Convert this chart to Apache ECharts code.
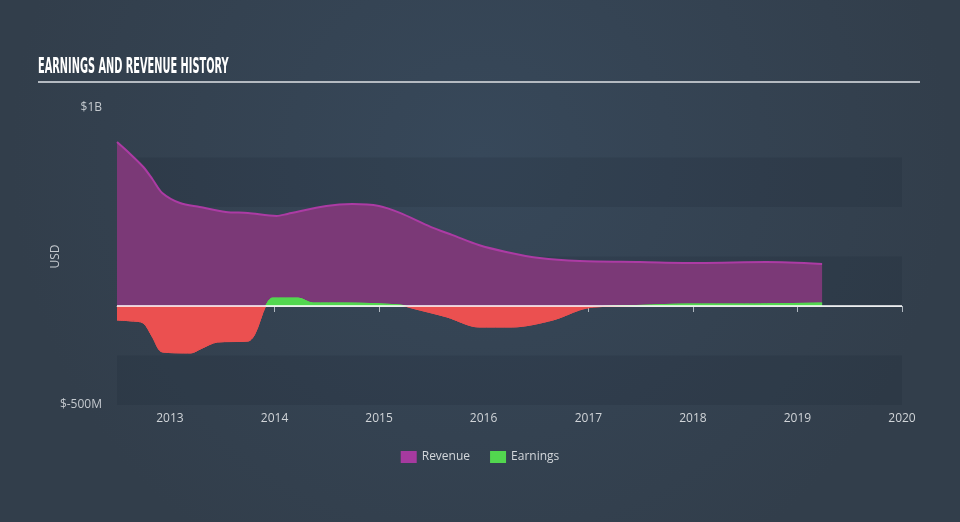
<!DOCTYPE html>
<html>
<head>
<meta charset="utf-8">
<script src="https://cdn.jsdelivr.net/npm/echarts@6/dist/echarts.min.js"></script>
<style>
html,body{margin:0;padding:0;width:960px;height:522px;overflow:hidden;background:#344454;}
#chart{width:960px;height:522px;}
</style>
</head>
<body>
<div id="chart"></div>
<script>
// Values in millions of USD
const revenueDates = ['2012-06-30','2012-08-15','2012-09-30','2012-11-01','2012-12-05','2013-02-05','2013-04-15','2013-07-15','2013-09-30','2014-01-08','2014-02-15','2014-07-01','2014-09-30','2015-01-01','2015-03-15','2015-06-30','2015-09-15','2015-12-15','2016-03-20','2016-07-15','2016-12-01','2017-06-30','2018-01-25','2018-09-15','2019-03-28'];
const revenueValues = [828,768,702,640,571,520,500,475,470,455,465,505,515,505,470,400,358,308,273,242,227,222,217,222,212];

const earningsDates = ['2012-06-30','2012-08-15','2012-09-30','2012-11-01','2012-12-05','2013-03-15','2013-04-20','2013-06-15','2013-10-01','2013-10-25','2013-12-01','2013-12-25','2014-03-25','2014-05-15','2014-09-01','2015-03-15','2015-04-25','2015-08-25','2015-12-15','2016-04-10','2016-09-01','2016-12-01','2017-01-20','2017-06-30','2017-12-15','2018-07-01','2019-03-28'];
const earningsValues = [-71,-75,-86,-157,-232,-237,-215,-182,-177,-140,0,40,40,15,15,5,-10,-55,-106,-106,-70,-20,-5,3,10,10,15];

const yTickLabels = {'1000': '$1B', '-500': '$-500M'};
const xMin = '2012-06-30';
const xMax = '2020-01-01';

const revenueData = revenueDates.map((d, i) => [d, revenueValues[i]]);
const earningsData = earningsDates.map((d, i) => [d, earningsValues[i]]);

const GREEN = '#52d74f', RED = '#eb5050';
const chart = echarts.init(document.getElementById('chart'));
const font = "'Open Sans', Lato, sans-serif";
chart.setOption({
  backgroundColor: {
    type: 'radial', x: 0.5, y: 0.3, r: 0.9,
    colorStops: [{offset: 0, color: '#37485a'}, {offset: 1, color: '#323e4b'}]
  },
  animation: false,
  graphic: [
    {type: 'text', x: 38, y: 57, scaleX: 0.467, scaleY: 1, originX: 0, originY: 0,
     style: {text: 'EARNINGS AND REVENUE HISTORY', fill: '#ffffff', font: "bold 21px 'DejaVu Sans', sans-serif", textVerticalAlign: 'top'}},
    {type: 'line', shape: {x1: 38, y1: 82, x2: 920, y2: 82}, style: {stroke: '#b4bac1', lineWidth: 2}}
  ],
  grid: {left: 117, right: 58, top: 108, bottom: 117, containLabel: false},
  legend: {
    bottom: 54, left: 'center', itemWidth: 16, itemHeight: 12, itemGap: 20,
    icon: 'rect',
    textStyle: {color: '#d3d7db', fontSize: 12, fontFamily: font},
    data: [{name: 'Revenue', itemStyle: {color: '#a63a9f'}}, {name: 'Earnings', itemStyle: {color: GREEN}}]
  },
  xAxis: {
    type: 'time', min: xMin, max: xMax, splitNumber: 8,
    minInterval: 365 * 24 * 3600 * 1000,
    axisLine: {show: true, lineStyle: {color: '#b0b8c0', width: 1}},
    axisTick: {show: true, length: 6, lineStyle: {color: '#b0b8c0'}},
    axisLabel: {color: '#d0d4d8', fontSize: 12, fontFamily: font, formatter: '{yyyy}', margin: 8, showMaxLabel: true},
    splitLine: {show: false}
  },
  yAxis: {
    type: 'value', min: -500, max: 1000, interval: 250,
    name: 'USD', nameLocation: 'middle', nameGap: 55, nameRotate: 90, nameMoveOverlap: false,
    nameTextStyle: {color: '#c4c9ce', fontSize: 12, fontFamily: font},
    axisLine: {show: false}, axisTick: {show: false},
    axisLabel: {color: '#c4c9ce', fontSize: 12, fontFamily: font, margin: 15,
      formatter: v => yTickLabels[String(v)] || ''},
    splitLine: {show: false},
    splitArea: {show: true, areaStyle: {color: ['rgba(20,30,42,0.14)', 'rgba(0,0,0,0)']}}
  },
  series: [
    {
      name: 'Revenue', type: 'line', data: revenueData, smooth: 0.3,
      showSymbol: false, symbol: 'none',
      lineStyle: {color: '#ac3ba4', width: 2},
      itemStyle: {color: '#a63a9f'},
      areaStyle: {color: '#7b3977', opacity: 1}
    },
    {
      name: 'Earnings', type: 'line', data: earningsData, smooth: 0.3,
      showSymbol: false, symbol: 'none',
      lineStyle: {width: 1, color: GREEN},
      itemStyle: {color: GREEN},
      areaStyle: {opacity: 1, color: GREEN},
      markLine: {
        silent: true, symbol: 'none', label: {show: false},
        lineStyle: {color: '#ffffff', width: 1.5, type: 'solid'},
        data: [{yAxis: 0}]
      }
    }
  ]
});

// Split earnings colour at the zero line using the axis scale
const zeroY = chart.convertToPixel({yAxisIndex: 0}, 0);
const H = chart.getHeight();
const t = zeroY / H;
const grad = {
  type: 'linear', x: 0, y: 0, x2: 0, y2: H, global: true,
  colorStops: [
    {offset: 0, color: GREEN}, {offset: t, color: GREEN},
    {offset: t, color: RED}, {offset: 1, color: RED}
  ]
};
chart.setOption({series: [{}, {lineStyle: {color: grad}, areaStyle: {color: grad}}]});
</script>
</body>
</html>
